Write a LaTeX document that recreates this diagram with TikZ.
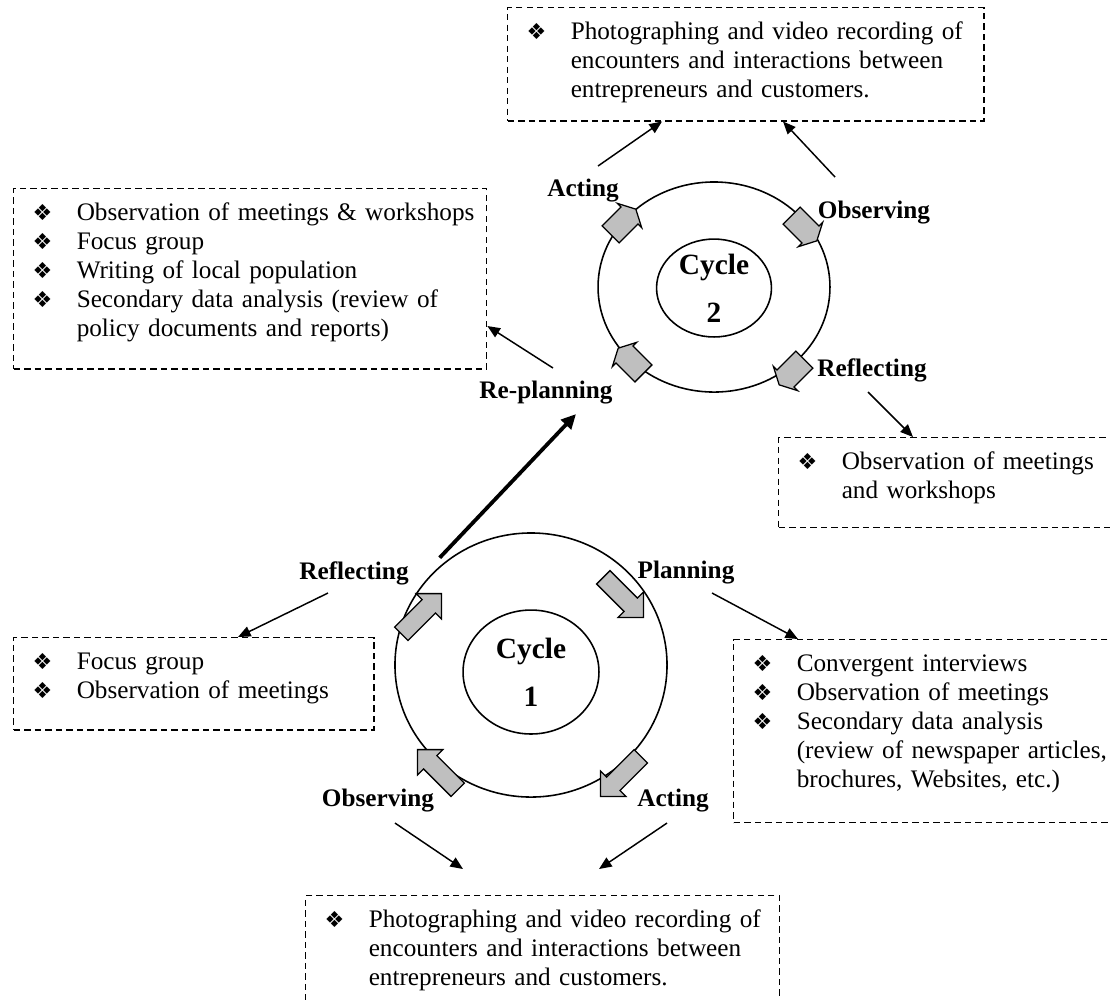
\documentclass[tikz,border=0pt]{standalone}
\usepackage{fontspec}
\setmainfont{Liberation Serif}
\newfontfamily\symfont{DejaVu Sans}
\usetikzlibrary{shapes.geometric,shapes.arrows,arrows.meta,calc}

\newcommand{\bul}{{\symfont\fontsize{10.5}{10.5}\selectfont\char"2756}}
\newcommand{\itm}{\hspace*{7pt}\makebox[21pt][l]{\bul}}
\newcommand{\cnt}{\hspace*{28pt}}

\tikzset{
  dbox/.style={draw, dash pattern=on 3pt off 2pt, line width=0.7pt, anchor=north west,
    inner xsep=2pt, inner ysep=0pt, align=left, text height=15.2pt,
    font=\fontsize{12}{13.8}\selectfont},
  stage/.style={font=\bfseries\fontsize{12}{14}\selectfont, inner sep=1pt},
  ring/.style={draw, ellipse, line width=0.75pt, inner sep=0pt},
  hub/.style={align=center, font=\bfseries\fontsize{14}{23}\selectfont},
  bigarr/.style={single arrow, draw, fill=black!25, line width=0.6pt, minimum height=27pt,
    inner sep=4.2pt, single arrow head extend=4pt},
  smallarr/.style={single arrow, draw, fill=black!25, line width=0.6pt, minimum height=17pt,
    inner sep=5.4pt, single arrow head extend=2.5pt, single arrow tip angle=125},
  conn/.style={-{Triangle[length=6pt,width=5pt]}, line width=0.7pt},
}

\begin{document}
\begin{tikzpicture}[x=0.476pt, y=-0.476pt]
  \useasboundingbox (0,0) rectangle (1110,999);
  \clip (0,0) rectangle (1110,999);

  % cycle 2
  \node[ring, minimum width=110.4pt, minimum height=100pt] (c2out) at (714,287) {};
  \node[ring, minimum width=54.7pt, minimum height=46.6pt] (c2in) at (714,288) {};
  \node[hub] (c2txt) at (c2in) {Cycle\\2};
  \node[smallarr, rotate=45] (c2a) at (621,224) {};
  \node[smallarr, rotate=-45] (c2b) at (802,226) {};
  \node[smallarr, rotate=-135] (c2c) at (794,370) {};
  \node[smallarr, rotate=135] (c2d) at (633,363) {};
  \node[stage] (l2act) at (583,191) {Acting};
  \node[stage] (l2obs) at (874,213) {Observing};
  \node[stage] (l2ref) at (872,370) {Reflecting};
  \node[stage] (l2rep) at (546,393) {Re-planning};

  % cycle 1
  \node[ring, minimum width=129.5pt, minimum height=125.7pt] (c1out) at (531,665) {};
  \node[ring, minimum width=64.7pt, minimum height=59pt] (c1in) at (531,672) {};
  \node[hub] (c1txt) at (c1in) {Cycle\\1};
  \node[bigarr, rotate=45] (c1a) at (418,617) {};
  \node[bigarr, rotate=-45] (c1b) at (620,594) {};
  \node[bigarr, rotate=-135] (c1c) at (624,773) {};
  \node[bigarr, rotate=135] (c1d) at (441,773) {};
  \node[stage] (l1ref) at (354,573) {Reflecting};
  \node[stage] (l1plan) at (686,573) {Planning};
  \node[stage] (l1obs) at (378,801) {Observing};
  \node[stage] (l1act) at (673,801) {Acting};

  % method boxes
  \node[dbox, text width=222.6pt, text depth=38.6pt] (tbox) at (507,7)
    {\itm Photographing and video recording of\\
     \cnt encounters and interactions between\\
     \cnt entrepreneurs and customers.};
  \node[dbox, text width=221.1pt, text depth=70.5pt] (lbox) at (13,188)
    {\itm Observation of meetings \& workshops\\
     \itm Focus group\\
     \itm Writing of local population\\
     \itm Secondary data analysis (review of\\
     \cnt policy documents and reports)};
  \node[dbox, text width=167.4pt, text depth=27.6pt] (rbox) at (778,437)
    {\itm Observation of meetings\\
     \cnt and workshops};
  \node[dbox, text width=186.4pt, text depth=71.9pt] (pbox) at (733,639)
    {\itm Convergent interviews\\
     \itm Observation of meetings\\
     \itm Secondary data analysis\\
     \cnt (review of newspaper articles,\\
     \cnt brochures, Websites, etc.)};
  \node[dbox, text width=167.4pt, text depth=28.6pt] (fbox) at (13,637)
    {\itm Focus group\\
     \itm Observation of meetings};
  \node[dbox, text width=221.6pt, text depth=46.7pt] (bbox) at (305,895)
    {\itm Photographing and video recording of\\
     \cnt encounters and interactions between\\
     \cnt entrepreneurs and customers.};

  % connectors
  \coordinate (rpT) at (553,368);
  \coordinate (a2T) at (598,166);
  \coordinate (o2T) at (835,177);
  \coordinate (r2T) at (868,392);
  \coordinate (p1T) at (712,593);
  \coordinate (r1T) at (328,593);
  \coordinate (o1H) at (463,869);
  \coordinate (a1H) at (599,869);
  \draw[conn] (rpT) -- ($(lbox.north east)+(0,138)$);
  \draw[conn] (a2T) -- ($(tbox.south west)+(155,0)$);
  \draw[conn] (o2T) -- ($(tbox.south west)+(276,0)$);
  \draw[conn] (r2T) -- ($(rbox.north west)+(135,0)$);
  \draw[conn] (p1T) -- ($(pbox.north west)+(65,0)$);
  \draw[conn] (r1T) -- ($(fbox.north west)+(225,0)$);
  \draw[conn] ([shift={(17,8)}]l1obs.south) -- (o1H);
  \draw[conn] ([shift={(-6,8)}]l1act.south) -- (a1H);
  \draw[-{Triangle[length=7pt,width=6.5pt]}, line width=1.8pt]
    ([shift={(4,-12)}]c1out.135) -- ([shift={(30,7)}]l2rep.south);
\end{tikzpicture}
\end{document}
